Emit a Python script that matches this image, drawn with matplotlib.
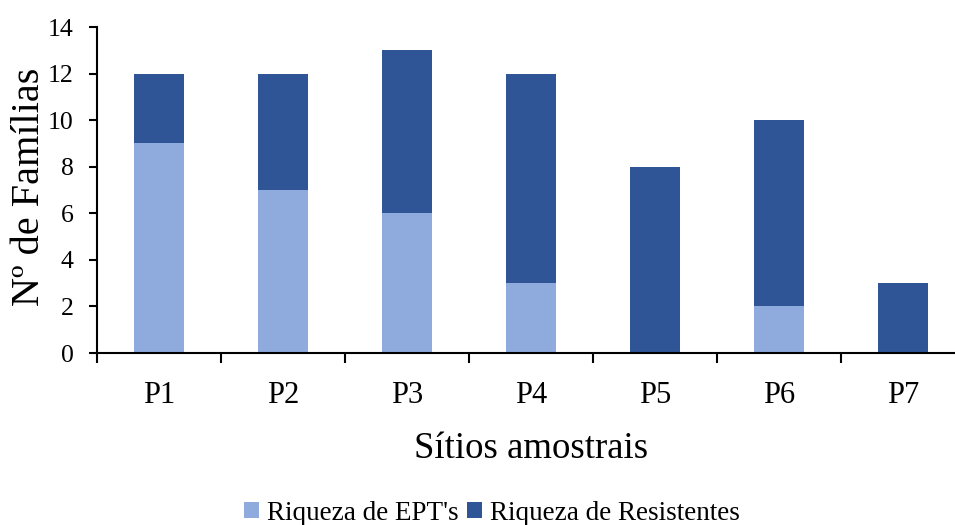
import numpy as np
import matplotlib
matplotlib.use("Agg")
import matplotlib.pyplot as plt
from matplotlib.ticker import FixedLocator

sites = ['P1', 'P2', 'P3', 'P4', 'P5', 'P6', 'P7']
ept = [9, 7, 6, 3, 0, 2, 0]
resistentes = [3, 5, 7, 9, 8, 8, 3]

plt.rcParams['font.family'] = ['Liberation Serif', 'DejaVu Serif']

fig = plt.figure(figsize=(9.55, 5.25), dpi=100)
ax = fig.add_axes([97/955, 172/525, 868/955, 326/525])

x = np.arange(len(sites))
ax.bar(x, ept, width=0.4, color='#8FAADC', label="Riqueza de EPT's")
ax.bar(x, resistentes, width=0.4, bottom=ept, color='#2F5597', label='Riqueza de Resistentes')

ax.set_xlim(-0.5, 6.5)
ax.set_ylim(0, 14)
ax.set_yticks(range(0, 15, 2))
ax.set_xticks(x)
ax.set_xticklabels(sites, fontsize=22)
ax.xaxis.set_minor_locator(FixedLocator(np.arange(-0.5, 7, 1)))
ax.tick_params(axis='x', which='major', length=0, pad=20)
ax.tick_params(axis='x', which='minor', length=7, width=1.5, direction='out')
ax.tick_params(axis='y', labelsize=18.5, length=6, width=1.5, direction='out', pad=11)

ax.spines['top'].set_visible(False)
ax.spines['right'].set_visible(False)
ax.spines['left'].set_linewidth(1.5)
ax.spines['bottom'].set_linewidth(1.5)

ax.set_xlabel('Sítios amostrais', fontsize=26.5, labelpad=16)
ax.set_ylabel('Nº de Famílias', fontsize=29)
ax.yaxis.set_label_coords(-0.056, 0.51)

fig.legend(loc='lower center', ncol=2, frameon=False, fontsize=19.5,
           handlelength=0.55, handleheight=0.55, handletextpad=0.3,
           columnspacing=0.3, bbox_to_anchor=(0.515, -0.048))

fig.savefig('out.png', dpi=100)
